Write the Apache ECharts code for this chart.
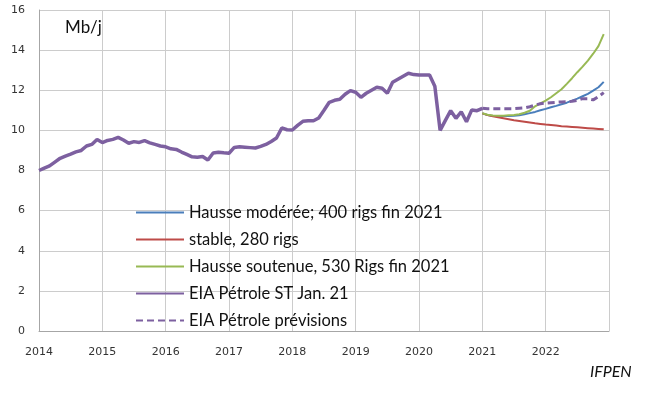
<!DOCTYPE html>
<html>
<head>
<meta charset="utf-8">
<script src="https://cdn.jsdelivr.net/npm/echarts@6/dist/echarts.min.js"></script>
<style>
  html, body { margin: 0; padding: 0; background: #fff; }
  #chart { width: 645px; height: 398px; }
</style>
</head>
<body>
<div id="chart"></div>
<script>
// mois comptés depuis janvier 2014
var startYear = 2014;
var histStart = 0;   // jan. 2014
var prevStart = 84;  // jan. 2021

// EIA Pétrole ST Jan. 21 (Mb/j), mensuel jan. 2014 -> jan. 2021
var eiaHist = [
  8.0, 8.12, 8.23, 8.42, 8.61, 8.72, 8.82, 8.93, 9.0, 9.22, 9.3, 9.55,
  9.39, 9.5, 9.55, 9.65, 9.52, 9.36, 9.44, 9.4, 9.49, 9.38, 9.3, 9.22,
  9.18, 9.08, 9.05, 8.92, 8.8, 8.68, 8.66, 8.7, 8.52, 8.87, 8.91, 8.88,
  8.86, 9.15, 9.18, 9.16, 9.14, 9.12, 9.2, 9.3, 9.45, 9.62, 10.12, 10.03,
  10.02, 10.25, 10.45, 10.48, 10.48, 10.62, 11.0, 11.4, 11.5, 11.55, 11.8, 11.98,
  11.9, 11.65, 11.85, 12.0, 12.15, 12.1, 11.85, 12.4, 12.55, 12.7, 12.85, 12.78,
  12.76, 12.76, 12.76, 12.2, 10.0, 10.5, 10.98, 10.6, 10.93, 10.43, 11.02, 10.98,
  11.1
];

// jan. 2021 -> déc. 2022
var eiaPrev = [
  11.1, 11.08, 11.08, 11.08, 11.08, 11.08, 11.08, 11.1, 11.12, 11.18, 11.26, 11.33,
  11.36, 11.38, 11.4, 11.42, 11.43, 11.45, 11.5, 11.58, 11.58, 11.52, 11.68, 11.88
];
var hausseModeree = [
  10.85, 10.76, 10.72, 10.72, 10.72, 10.72, 10.73, 10.75, 10.8, 10.86, 10.92, 11.0,
  11.07, 11.15, 11.22, 11.3, 11.38, 11.48, 11.58, 11.7, 11.82, 11.98, 12.15, 12.42
];
var stable = [
  10.85, 10.76, 10.7, 10.65, 10.6, 10.55, 10.5, 10.47, 10.43, 10.39, 10.35, 10.32,
  10.29, 10.27, 10.24, 10.21, 10.19, 10.17, 10.15, 10.13, 10.11, 10.09, 10.07, 10.05
];
var hausseSoutenue = [
  10.85, 10.78, 10.74, 10.73, 10.73, 10.75, 10.77, 10.8, 10.88, 10.98, 11.2, 11.35,
  11.48, 11.65, 11.85, 12.05, 12.32, 12.6, 12.9, 13.18, 13.48, 13.82, 14.2, 14.8
];

var seriesNames = [
  'Hausse modérée; 400 rigs fin 2021',
  'stable, 280 rigs',
  'Hausse soutenue, 530 Rigs fin 2021',
  'EIA Pétrole ST Jan. 21',
  'EIA Pétrole prévisions'
];

function toPoints(values, firstMonth) {
  return values.map(function (v, i) {
    return [startYear + (firstMonth + i) / 12, v];
  });
}

var myChart = echarts.init(document.getElementById('chart'));

var option = {
  backgroundColor: '#fff',
  animation: false,
  grid: { left: 39, right: 36, top: 10, bottom: 67 },
  legend: {
    orient: 'vertical',
    left: 135,
    top: 204,
    padding: 0,
    itemWidth: 48,
    itemHeight: 14,
    itemGap: 10,
    data: seriesNames,
    itemStyle: { opacity: 0 }, // pas de symbole, seulement le trait
    textStyle: { fontFamily: 'Lato', fontSize: 16.5, color: '#111' }
  },
  xAxis: {
    type: 'value',
    min: 2014,
    max: 2023,
    interval: 1,
    axisLine: { show: true, lineStyle: { color: '#a6a6a6' } },
    axisTick: { show: false },
    splitLine: { show: true, lineStyle: { color: '#cccccc' } },
    axisLabel: {
      margin: 16,
      fontFamily: 'Verdana, DejaVu Sans',
      fontSize: 11,
      color: '#333',
      formatter: function (v) { return v >= 2023 ? '' : String(v); }
    }
  },
  yAxis: {
    type: 'value',
    min: 0,
    max: 16,
    interval: 2,
    axisLine: { show: true, lineStyle: { color: '#a6a6a6' } },
    axisTick: { show: false },
    splitLine: { show: true, lineStyle: { color: '#cccccc' } },
    axisLabel: {
      margin: 14,
      fontFamily: 'Verdana, DejaVu Sans',
      fontSize: 11,
      color: '#333'
    }
  },
  graphic: [
    {
      type: 'text', left: 65, top: 19,
      style: { text: 'Mb/j', fontFamily: 'Lato', fontSize: 17, fill: '#111' }
    },
    {
      type: 'text', left: 590, top: 364,
      style: { text: 'IFPEN', fontFamily: 'Lato', fontSize: 16, fontStyle: 'italic', fill: '#111' }
    }
  ],
  series: [
    {
      name: seriesNames[0], type: 'line', symbol: 'none', z: 3,
      data: toPoints(hausseModeree, prevStart),
      lineStyle: { color: '#4a7ebb', width: 2 }, itemStyle: { color: '#4a7ebb' }
    },
    {
      name: seriesNames[1], type: 'line', symbol: 'none', z: 3,
      data: toPoints(stable, prevStart),
      lineStyle: { color: '#be4b48', width: 2 }, itemStyle: { color: '#be4b48' }
    },
    {
      name: seriesNames[2], type: 'line', symbol: 'none', z: 3,
      data: toPoints(hausseSoutenue, prevStart),
      lineStyle: { color: '#98b954', width: 2 }, itemStyle: { color: '#98b954' }
    },
    {
      name: seriesNames[3], type: 'line', symbol: 'none', z: 4,
      data: toPoints(eiaHist, histStart),
      lineStyle: { color: '#7d60a0', width: 3.5 }, itemStyle: { color: '#7d60a0' }
    },
    {
      name: seriesNames[4], type: 'line', symbol: 'none', z: 4,
      data: toPoints(eiaPrev, prevStart),
      lineStyle: { color: '#7d60a0', width: 3, type: [7, 4] }, itemStyle: { color: '#7d60a0' }
    }
  ]
};

myChart.setOption(option);
</script>
</body>
</html>
